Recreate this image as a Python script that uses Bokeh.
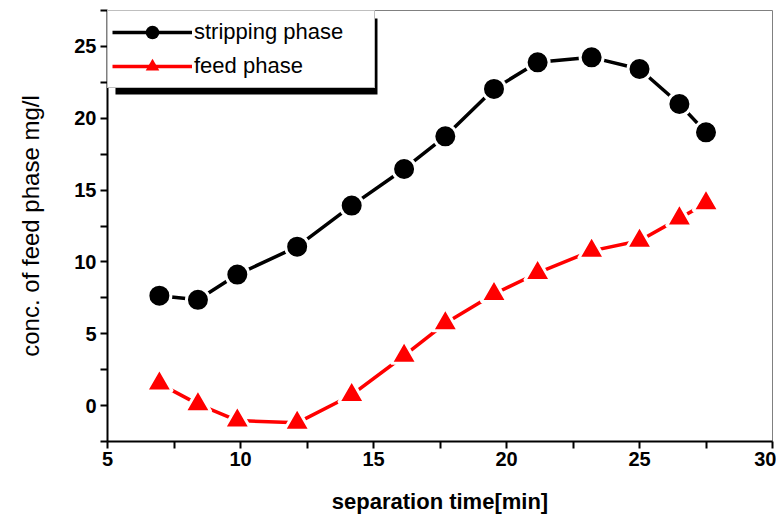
from bokeh.plotting import figure
from bokeh.models import Legend, LegendItem, BoxAnnotation, FixedTicker, Range1d
from bokeh.embed import file_html
from bokeh.resources import INLINE

time_min = [6.95, 8.4, 9.88, 12.13, 14.18, 16.15, 17.7, 19.53, 21.17, 23.2, 25.0, 26.5, 27.5]
stripping = [7.65, 7.36, 9.12, 11.06, 13.92, 16.47, 18.74, 22.04, 23.89, 24.24, 23.43, 20.99, 19.02]
feed = [1.53, 0.10, -1.04, -1.2, 0.74, 3.47, 5.73, 7.77, 9.23, 10.77, 11.47, 13.03, 14.09]
x_ticks = [5, 10, 15, 20, 25, 30]
y_ticks = [0, 5, 10, 15, 20, 25]

FONT = "Liberation Sans"

p = figure(width=776, height=520, output_backend="svg", toolbar_location=None,
           x_range=Range1d(5, 30), y_range=Range1d(-2.5, 27.5),
           min_border_left=107, min_border_right=4, min_border_top=10, min_border_bottom=79)
p.background_fill_color = "white"
p.border_fill_color = "white"
p.grid.visible = False
p.outline_line_color = "#808080"
p.outline_line_width = 1

for ax, ticks in ((p.xaxis[0], x_ticks), (p.yaxis[0], y_ticks)):
    ax.ticker = FixedTicker(ticks=ticks, minor_ticks=[t + 2.5 for t in [x - 5 for x in ticks] + ticks])
    ax.axis_line_color = "black"
    ax.axis_line_width = 2
    ax.major_tick_line_color = "black"
    ax.major_tick_line_width = 2
    ax.minor_tick_line_color = "black"
    ax.minor_tick_line_width = 2
    ax.major_tick_in = 0
    ax.major_tick_out = 7
    ax.minor_tick_in = 0
    ax.minor_tick_out = 7
    ax.major_label_text_font = FONT
    ax.major_label_text_font_style = "bold"
    ax.major_label_text_font_size = "20px"
    ax.major_label_text_color = "black"
    ax.axis_label_text_font = FONT
    ax.axis_label_text_font_style = "normal"
    ax.axis_label_text_color = "black"

p.xaxis.axis_label = "separation time[min]"
p.xaxis.axis_label_text_font_size = "22px"
p.xaxis.axis_label_text_font_style = "bold"
p.xaxis.axis_label_standoff = 20
p.xaxis.major_label_standoff = 3
p.yaxis.axis_label = "conc. of feed phase mg/l"
p.yaxis.axis_label_text_font_size = "24px"
p.yaxis.axis_label_standoff = 27
p.yaxis.major_label_standoff = 4

# legend shadow
shadow = BoxAnnotation(left=5.3, right=15.15, top=26.94, bottom=21.65,
                       fill_color="black", fill_alpha=1.0, line_color=None)
p.add_layout(shadow)

l1 = p.line(time_min, stripping, line_color="black", line_width=3.5)
k1 = p.scatter(time_min, stripping, marker="circle", size=20, fill_color="black", line_color=None)
m1 = p.scatter(time_min, stripping, marker="circle", size=23, fill_color="black",
               line_color="white", line_width=3)
l2 = p.line(time_min, feed, line_color="red", line_width=3.5)
k2 = p.scatter(time_min, feed, marker="triangle", size=23, fill_color="red", line_color=None)
m2 = p.scatter(time_min, feed, marker="triangle", size=26, fill_color="red",
               line_color="white", line_width=3)

legend = Legend(items=[LegendItem(label="stripping phase", renderers=[l1, k1]),
                       LegendItem(label="feed phase", renderers=[l2, k2])],
                location="top_left", margin=0, padding=4, spacing=0,
                glyph_width=80, glyph_height=34, label_height=34, label_width=176,
                label_standoff=2,
                label_text_font=FONT, label_text_font_size="22px", label_text_color="black",
                border_line_color="#808080", border_line_width=1,
                background_fill_color="white", background_fill_alpha=1.0)
p.add_layout(legend)

open("out.html", "w").write(file_html(p, INLINE))
